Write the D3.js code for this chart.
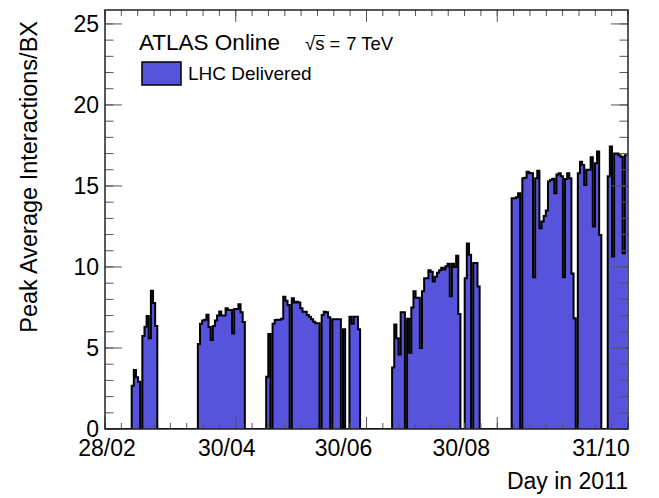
<!DOCTYPE html>
<html>
<head>
<meta charset="utf-8">
<script src="https://cdn.jsdelivr.net/npm/d3@7"></script>
<style>
  html, body { margin: 0; padding: 0; background: #fff; }
  svg { display: block; font-family: "Liberation Sans", Arial, Helvetica, sans-serif; }
</style>
</head>
<body>
<svg id="chart" width="659" height="498"></svg>
<script>
// Peak average interactions per bunch crossing, one bin per day,
// bin k is the k-th day after 28/02/2011.
const peakMu = [
  0, 0, 0, 0, 0, 0, 0, 0, 0, 0,
  0, 0, 0, 2.67, 3.64, 3.19, 2.92, 0, 5.74, 6.31,
  6.97, 5.6, 8.54, 7.78, 6.36, 0, 0, 0, 0, 0,
  0, 0, 0, 0, 0, 0, 0, 0, 0, 0,
  0, 0, 0, 0, 5.25, 6.5, 6.7, 6.75, 7.05, 6.3,
  5.5, 6.35, 6.7, 7.0, 7.25, 7.0, 7.0, 7.45, 7.35, 7.35,
  5.9, 7.4, 7.4, 7.7, 7.2, 6.6, 0, 0, 0, 0,
  0, 0, 0, 0, 0, 0, 3.23, 5.86, 0, 6.5,
  6.73, 6.75, 6.75, 6.8, 8.17, 7.92, 7.65, 0, 8.07, 7.8,
  7.85, 7.8, 7.45, 7.24, 7.24, 7.04, 6.93, 6.77, 6.62, 6.52,
  6.52, 0, 7.04, 7.24, 7.2, 6.9, 0, 6.77, 6.77, 6.77,
  6.77, 0, 6.15, 0, 0, 6.93, 6.5, 6.93, 6.93, 6.15,
  0, 0, 0, 0, 0, 0, 0, 0, 0, 0,
  0, 0, 0, 0, 0, 3.8, 6.45, 5.6, 4.6, 7.2,
  7.2, 0, 6.8, 4.7, 7.5, 8.5, 8.1, 8.1, 5.0, 8.5,
  9.3, 9.3, 9.8, 9.7, 9.1, 9.4, 9.65, 9.8, 9.95, 9.85,
  10.05, 10.2, 8.2, 10.2, 10.0, 10.7, 7.1, 0, 0, 9.3,
  11.45, 10.75, 0, 10.25, 10.25, 8.8, 0, 0, 0, 0,
  0, 0, 0, 0, 0, 0, 0, 0, 0, 0,
  0, 14.24, 14.24, 14.3, 14.55, 0, 15.48, 15.5, 15.88, 15.8,
  15.78, 9.36, 15.48, 15.94, 12.39, 12.8, 13.15, 13.48, 15.27, 15.37,
  15.45, 14.55, 15.7, 15.78, 15.6, 9.36, 15.43, 15.78, 15.48, 9.6,
  6.83, 0, 15.78, 16.5, 16.3, 15.06, 16.0, 16.0, 16.77, 12.5,
  16.4, 17.12, 11.98, 0, 0, 0, 15.6, 17.43, 10.64, 17.0,
  17.0, 16.9, 16.8, 10.85, 16.9
];

// Time axis: 245 days split into 4 major divisions of 8 minor steps
const dayRange = [0, 245];
const dayTickValues = [0, 61.25, 122.5, 183.75, 245];
const dayTickLabels = ["28/02", "30/04", "30/06", "30/08", "31/10"];
const muRange = [0, 25.86];
const muTickValues = [0, 5, 10, 15, 20, 25];

const legendLabel = "LHC Delivered";
const fillColor = "#5853dc";

const svg = d3.select("#chart");
const plot = { left: 105, right: 628, top: 10, bottom: 429 };

const x = d3.scaleLinear().domain(dayRange).range([plot.left, plot.right]);
const y = d3.scaleLinear().domain(muRange).range([plot.bottom, plot.top]);

svg.append("rect").attr("width", 659).attr("height", 498).attr("fill", "#fff");

svg.append("clipPath").attr("id", "plotClip")
  .append("rect")
  .attr("x", plot.left).attr("y", plot.top)
  .attr("width", plot.right - plot.left).attr("height", plot.bottom - plot.top);

// Histogram as a step outline: each bin spans [k-0.5, k+0.5]
const steps = [];
peakMu.forEach((v, k) => { steps.push([k - 0.5, v]); steps.push([k + 0.5, v]); });

const g = svg.append("g").attr("clip-path", "url(#plotClip)");
g.append("path")
  .datum(steps)
  .attr("fill", fillColor)
  .attr("d", d3.area().x(d => x(d[0])).y0(y(0)).y1(d => y(d[1])));
g.append("path")
  .datum(steps)
  .attr("fill", "none")
  .attr("stroke", "#000")
  .attr("stroke-width", 2)
  .attr("stroke-linejoin", "miter")
  .attr("d", d3.line().x(d => x(d[0])).y(d => y(d[1])));

// Tick marks on all four sides, pointing inwards
const minorDays = d3.range(0, 33).map(i => dayRange[1] * i / 32);
const minorMu = d3.range(0, 26);
const ticks = svg.append("g").attr("stroke", "#555").attr("stroke-width", 1);

function tickSet(vals, len, side) {
  vals.forEach(v => {
    if (side === "left") ticks.append("line").attr("x1", plot.left).attr("x2", plot.left + len).attr("y1", y(v)).attr("y2", y(v));
    if (side === "right") ticks.append("line").attr("x1", plot.right).attr("x2", plot.right - len).attr("y1", y(v)).attr("y2", y(v));
    if (side === "bottom") ticks.append("line").attr("x1", x(v)).attr("x2", x(v)).attr("y1", plot.bottom).attr("y2", plot.bottom - len);
    if (side === "top") ticks.append("line").attr("x1", x(v)).attr("x2", x(v)).attr("y1", plot.top).attr("y2", plot.top + len);
  });
}
tickSet(minorMu, 8.5, "left");
tickSet(muTickValues, 17, "left");
tickSet(minorMu, 8.5, "right");
tickSet(muTickValues, 17, "right");
tickSet(minorDays, 6, "bottom");
tickSet(dayTickValues, 12, "bottom");
tickSet(minorDays, 6, "top");
tickSet(dayTickValues, 12, "top");

// Frame
svg.append("rect")
  .attr("x", plot.left).attr("y", plot.top)
  .attr("width", plot.right - plot.left).attr("height", plot.bottom - plot.top)
  .attr("fill", "none").attr("stroke", "#222").attr("stroke-width", 1.5);

// Tick labels
svg.append("g").selectAll("text").data(muTickValues).join("text")
  .attr("x", plot.left - 6).attr("y", d => y(d) + 8)
  .attr("text-anchor", "end").attr("font-size", 23).attr("fill", "#000")
  .text(d => d);

// date labels sit slightly left of their ticks, as the time axis lays them out
const dateLabelShift = [2, -9, -23, -36, -27];
svg.append("g").selectAll("text").data(dayTickValues).join("text")
  .attr("x", (d, i) => x(d) + dateLabelShift[i]).attr("y", 456)
  .attr("text-anchor", "middle").attr("font-size", 23).attr("fill", "#000")
  .text((d, i) => dayTickLabels[i]);

// Axis titles
svg.append("text")
  .attr("transform", `translate(37, ${plot.top + 11}) rotate(-90)`)
  .attr("text-anchor", "end").attr("font-size", 23.5).attr("fill", "#000")
  .text("Peak Average Interactions/BX");

svg.append("text")
  .attr("x", plot.right).attr("y", 489)
  .attr("text-anchor", "end").attr("font-size", 23).attr("fill", "#000")
  .text("Day in 2011");

// Header labels and legend
svg.append("text")
  .attr("x", 139).attr("y", 50)
  .attr("font-size", 22.5).attr("fill", "#000")
  .text("ATLAS Online");

const energy = svg.append("text")
  .attr("x", 305).attr("y", 50)
  .attr("font-size", 18.5).attr("fill", "#000");
energy.append("tspan").text("\u221A");
energy.append("tspan").text("s");
energy.append("tspan").attr("dx", 5).text("=");
energy.append("tspan").attr("dx", 6).text("7 TeV");
// overline of the square root across the "s"
{
  const node = energy.node();
  const start = node.getStartPositionOfChar(1);
  const end = node.getEndPositionOfChar(1);
  svg.append("line")
    .attr("x1", start.x - 1).attr("x2", end.x + 0.5)
    .attr("y1", 50 - 14.5).attr("y2", 50 - 14.5)
    .attr("stroke", "#000").attr("stroke-width", 1);
}

svg.append("rect")
  .attr("x", 142).attr("y", 62).attr("width", 39).attr("height", 23)
  .attr("fill", fillColor).attr("stroke", "#000").attr("stroke-width", 1.5);
svg.append("text")
  .attr("x", 188).attr("y", 80)
  .attr("font-size", 19).attr("fill", "#000")
  .text(legendLabel);
</script>
</body>
</html>
